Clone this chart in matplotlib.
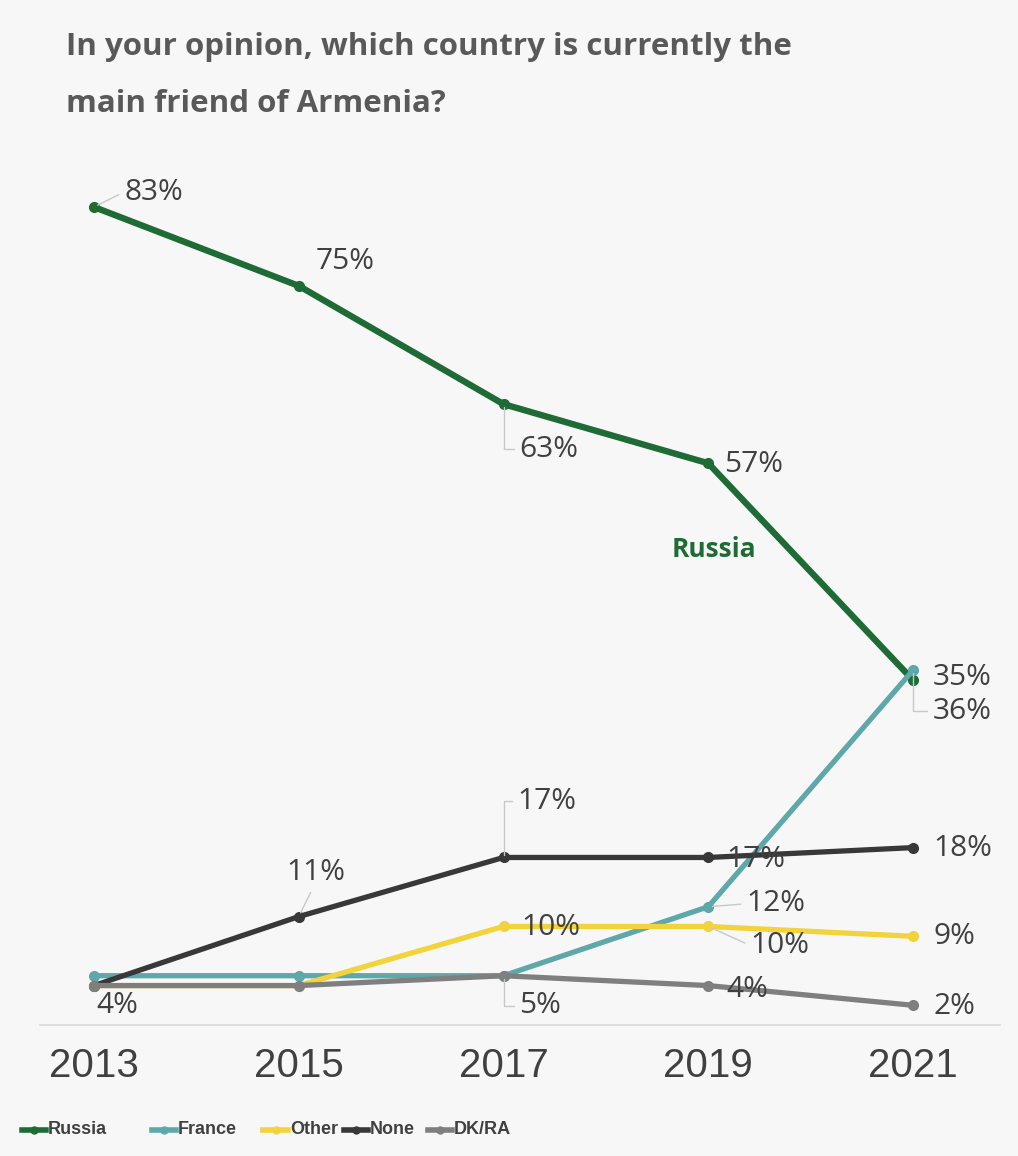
import matplotlib
matplotlib.use("Agg")
import matplotlib.pyplot as plt
from matplotlib.lines import Line2D

# survey waves and shares (%) naming each country as Armenia's main friend
years = [2013, 2015, 2017, 2019, 2021]
russia = [83, 75, 63, 57, 35]
france = [5, 5, 5, 12, 36]
other = [4, 4, 10, 10, 9]
none_ = [4, 11, 17, 17, 18]
dkra = [4, 4, 5, 4, 2]

series_names = ["Russia", "France", "Other", "None", "DK/RA"]
colors = ["#1f6b35", "#5ea8aa", "#f2d33c", "#383838", "#7f7f7f"]

BG = "#f7f7f7"
TXT = "#404040"
LEAD = "#c8c8c8"
num_font = ["Open Sans", "DejaVu Sans"]
narrow = ["Liberation Sans Narrow", "Liberation Sans", "DejaVu Sans"]

W, H = 1018, 1156
fig = plt.figure(figsize=(W / 100, H / 100), dpi=100, facecolor=BG)

# axes box in pixels: x 40..1000, y (from top) 150..1025
ax = fig.add_axes([40 / W, (H - 1025) / H, 960 / W, 875 / H])
ax.set_facecolor(BG)
px_year = (913 - 94) / 8
ax.set_xlim(2013 - (94 - 40) / px_year, 2021 + (1000 - 913) / px_year)
ax.set_ylim(0, 875 / 9.855)

data = [russia, france, other, none_, dkra]
widths = [4.6, 3.8, 3.8, 3.8, 3.8]
zorders = [2, 3, 4, 5, 6]
for vals, c, lw, z in zip(data, colors, widths, zorders):
    ax.plot(years, vals, color=c, lw=lw, marker="o", ms=7, zorder=z,
            solid_capstyle="round")

for s in ["top", "left", "right"]:
    ax.spines[s].set_visible(False)
ax.spines["bottom"].set_color("#d9d9d9")
ax.spines["bottom"].set_linewidth(1.2)
ax.set_yticks([])
ax.set_xticks(years)
ax.set_xticklabels([str(y) for y in years], family=narrow, fontsize=29, color=TXT)
ax.tick_params(axis="x", length=0, pad=16)


def label(x, y, text, dx, dy, ha="left", elbow=None, straight=None):
    # value label offset in pixels from its point, optional gray leader line
    kw = {}
    if elbow is not None:
        kw["arrowprops"] = dict(arrowstyle="-", color=LEAD, lw=1.0, shrinkA=2, shrinkB=2,
                                relpos=elbow,
                                connectionstyle="angle,angleA=0,angleB=90,rad=0")
    elif straight is not None:
        kw["arrowprops"] = dict(arrowstyle="-", color=LEAD, lw=1.0, shrinkA=2, shrinkB=3,
                                relpos=straight)
    ax.annotate(text, (x, y), xytext=(dx, -dy), textcoords="offset pixels",
                ha=ha, va="center", fontsize=21.5, color=TXT, family=num_font,
                zorder=10, annotation_clip=False, **kw)


# Russia
label(years[0], russia[0], f"{russia[0]}%", 30, -15, straight=(0, 0.5))
label(years[1], russia[1], f"{russia[1]}%", 17, -24)
label(years[2], russia[2], f"{russia[2]}%", 16, 45, elbow=(0, 0.5))
label(years[3], russia[3], f"{russia[3]}%", 16, 1)
label(years[4], russia[4], f"{russia[4]}%", 20, -3)
# France
label(years[2], france[2], f"{france[2]}%", 16, 30, elbow=(0, 0.5))
label(years[3], france[3], f"{france[3]}%", 38, -3, straight=(0, 0.5))
label(years[4], france[4], f"{france[4]}%", 20, 41, elbow=(0, 0.5))
# Other
label(years[2], other[2], f"{other[2]}%", 18, 1)
label(years[3], other[3], f"{other[3]}%", 42, 19, straight=(0, 0.5))
label(years[4], other[4], f"{other[4]}%", 20, 0)
# None
label(years[1], none_[1], f"{none_[1]}%", -12, -44, straight=(0.45, 0))
label(years[2], none_[2], f"{none_[2]}%", 14, -56, elbow=(0, 0.5))
label(years[3], none_[3], f"{none_[3]}%", 18, 2)
label(years[4], none_[4], f"{none_[4]}%", 20, 1)
# DK/RA
label(years[0], dkra[0], f"{dkra[0]}%", 2, 20)
label(years[3], dkra[3], f"{dkra[3]}%", 18, 4)
label(years[4], dkra[4], f"{dkra[4]}%", 20, 1)

ax.text(2019.06, 48.2, "Russia", color=colors[0], fontsize=19, fontweight="bold",
        family=num_font, ha="center", va="center")

# title
title_kw = dict(fontsize=22.5, fontweight="bold", color="#595959", family=num_font,
                ha="left", va="center")
fig.text(66 / W, 1 - 47 / H, "In your opinion, which country is currently the", **title_kw)
fig.text(66 / W, 1 - 104 / H, "main friend of Armenia?", **title_kw)

# legend, drawn entry by entry
leg_y = 1 - 1130 / H
leg_x = [(22, 46), (152, 176), (263, 288), (344, 368), (428, 452)]
for (x0, x1), name, c in zip(leg_x, series_names, colors):
    fig.add_artist(Line2D([x0 / W, x1 / W], [leg_y, leg_y], color=c, lw=4,
                          transform=fig.transFigure))
    fig.add_artist(Line2D([(x0 + x1) / 2 / W], [leg_y], color=c, marker="o", ms=5,
                          transform=fig.transFigure))
    fig.text((x1 + 2) / W, leg_y, name, fontsize=13, fontweight="bold", color=TXT,
             family=narrow, ha="left", va="center")

fig.savefig("out.png", dpi=100, facecolor=BG)
